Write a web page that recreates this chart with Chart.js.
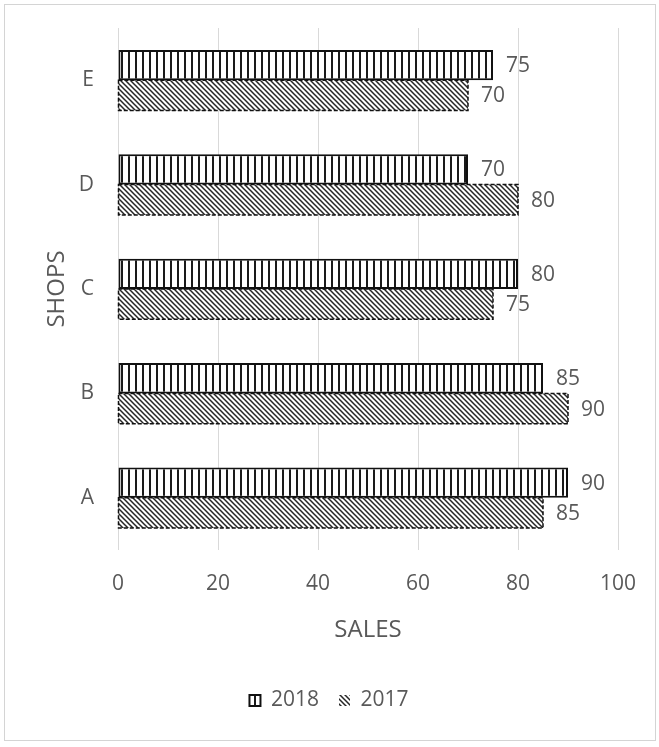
<!DOCTYPE html>
<html>
<head>
<meta charset="utf-8">
<script src="https://cdn.jsdelivr.net/npm/chart.js@4"></script>
<style>
  body { margin: 0; background: #fff; }
  #wrap { position: relative; width: 659px; height: 747px; }
  #frame { position: absolute; left: 4px; top: 4px; width: 650px; height: 735px; border: 1px solid #d4d4d4; pointer-events: none; }
</style>
</head>
<body>
<div id="wrap">
  <canvas id="grafico" width="659" height="747"></canvas>
  <div id="frame"></div>
</div>
<script>
// datos (de arriba hacia abajo)
const tiendas = ['E', 'D', 'C', 'B', 'A'];
const ventas2018 = [75, 70, 80, 85, 90];
const ventas2017 = [70, 80, 75, 90, 85];
const ticksVentas = [0, 20, 40, 60, 80, 100];

const gris = '#595959';
const fuente = '"Open Sans", "Liberation Sans", sans-serif';

// patron rayas verticales (2018)
const rayas = () => {
    const c = document.createElement('canvas');
    c.width = 7; c.height = 7;
    const ctx = c.getContext('2d');
    ctx.fillStyle = '#fff';
    ctx.fillRect(0, 0, 7, 7);
    ctx.fillStyle = '#1a1a1a';
    ctx.fillRect(2, 0, 2, 7);
    return ctx.createPattern(c, 'repeat');
};

// patron diagonal (2017)
const diagonal = () => {
    const n = 5;
    const c = document.createElement('canvas');
    c.width = n; c.height = n;
    const ctx = c.getContext('2d');
    ctx.fillStyle = '#fff';
    ctx.fillRect(0, 0, n, n);
    ctx.strokeStyle = '#262626';
    ctx.lineWidth = 1.5;
    ctx.beginPath();
    ctx.moveTo(-1, -1); ctx.lineTo(n + 1, n + 1);
    ctx.moveTo(-1, n - 1); ctx.lineTo(1, n + 1);
    ctx.moveTo(n - 1, -1); ctx.lineTo(n + 1, 1);
    ctx.stroke();
    return ctx.createPattern(c, 'repeat');
};

// borde punteado + etiquetas de valor
const extras = {
    id: 'extras',
    afterDatasetsDraw(chart) {
        const ctx = chart.ctx;
        ctx.save();
        const meta17 = chart.getDatasetMeta(1);
        ctx.strokeStyle = '#111';
        ctx.lineWidth = 1.5;
        ctx.setLineDash([4, 2]);
        meta17.data.forEach(el => {
            const { x, y, base, height } = el.getProps(['x', 'y', 'base', 'height'], true);
            ctx.strokeRect(base, y - height / 2, x - base, height);
        });
        ctx.setLineDash([]);
        ctx.fillStyle = gris;
        ctx.font = '21px ' + fuente;
        ctx.textBaseline = 'middle';
        chart.data.datasets.forEach((ds, i) => {
            chart.getDatasetMeta(i).data.forEach((el, j) => {
                ctx.fillText(ds.data[j], el.x + 13, el.y + 1);
            });
        });
        ctx.restore();
    }
};

new Chart(document.querySelector('#grafico'), {
    type: 'bar',
    data: {
        labels: tiendas,
        datasets: [
            { label: '2018', data: ventas2018, backgroundColor: rayas(), borderColor: '#111', borderWidth: 2, borderSkipped: false },
            { label: '2017', data: ventas2017, backgroundColor: diagonal(), borderColor: '#111', borderWidth: 0 }
        ]
    },
    options: {
        indexAxis: 'y',
        responsive: false,
        animation: false,
        layout: { padding: { left: 40, right: 41, top: 28, bottom: 26 } },
        datasets: { bar: { categoryPercentage: 0.58, barPercentage: 1 } },
        scales: {
            x: {
                min: 0, max: 100,
                afterBuildTicks: s => { s.ticks = ticksVentas.map(v => ({ value: v })); },
                grid: { color: '#d9d9d9', drawTicks: true, tickLength: 19, tickColor: 'transparent' },
                border: { display: false },
                ticks: { color: gris, font: { family: fuente, size: 21 }, padding: 2 },
                title: { display: true, text: 'SALES', color: gris, font: { family: fuente, size: 24 }, padding: { top: 18, bottom: 25 } }
            },
            y: {
                grid: { color: 'transparent', drawTicks: true, tickLength: 22, tickColor: 'transparent' },
                border: { display: false },
                ticks: { color: gris, font: { family: fuente, size: 21 }, padding: 2 },
                title: { display: true, text: 'SHOPS', color: gris, font: { family: fuente, size: 24 }, padding: 3 },
                afterFit: s => { s.width = 78; }
            }
        },
        plugins: {
            legend: {
                position: 'bottom',
                labels: { color: gris, font: { family: fuente, size: 21 }, boxWidth: 11, boxHeight: 11, padding: 20 }
            },
            tooltip: { enabled: false }
        }
    },
    plugins: [extras]
});
</script>
</body>
</html>
